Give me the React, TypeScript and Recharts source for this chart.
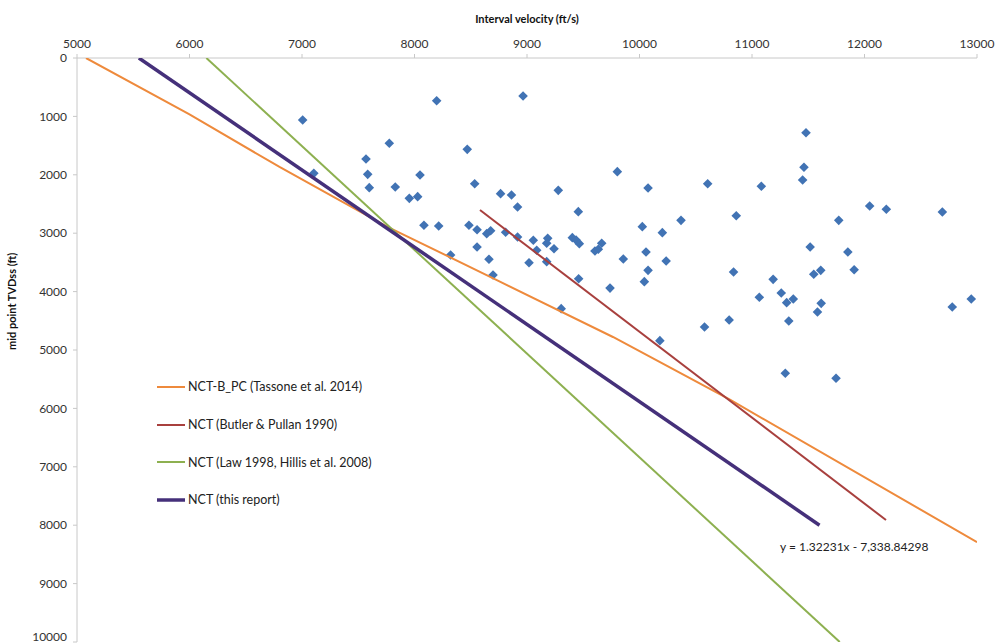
import React from "react";
import { ScatterChart, Scatter, XAxis, YAxis } from "recharts";

// interval velocity (ft/s), mid point depth TVDss (ft)
const wellVelocity = [
  7006, 8197, 7776, 7569, 7105, 7584, 8049, 8469, 7598, 7829, 7954, 8028, 8535, 8765, 8862,
  8916, 8084, 8215, 8484, 8556, 8642, 8677, 8810, 8916, 8321, 8556, 8662, 8698, 8965, 9803,
  9278, 10076, 10606, 9456, 10025, 10203, 10369, 10860, 9056, 9086, 9184, 9175, 9240, 9403,
  9436, 9465, 9604, 9634, 9664, 9018, 9175, 9856, 10058, 10076, 10237, 9459, 9738, 10043,
  10836, 11480, 11462, 11450, 11083, 12046, 12194, 12692, 11771, 11517, 11852, 11908, 11549,
  11611, 11188, 11065, 11260, 11308, 11367, 11615, 11582, 11327, 12780, 12949, 11296, 11747,
  9304, 10181, 10578, 10797,
];
const wellDepth = [
  1062, 731, 1461, 1729, 1975, 1992, 2003, 1564, 2220, 2209, 2403, 2374, 2152, 2323, 2346,
  2551, 2865, 2877, 2865, 2940, 3008, 2957, 2985, 3065, 3373, 3236, 3447, 3716, 650, 1946,
  2266, 2226, 2152, 2631, 2888, 2991, 2780, 2700, 3122, 3293, 3088, 3173, 3265, 3076,
  3116, 3179, 3305, 3276, 3173, 3505, 3487, 3442, 3322, 3636, 3476, 3779, 3940, 3830,
  3664, 1279, 1872, 2089, 2197, 2534, 2591, 2637, 2780, 3236, 3322, 3625, 3704,
  3636, 3790, 4098, 4024, 4189, 4127, 4201, 4349, 4503, 4264, 4127, 5399, 5485,
  4292, 4840, 4606, 4486,
];

const tassoneVelocity = [5080, 6000, 6800, 7760, 8750, 9764, 10804, 13000];
const tassoneDepth = [0, 965, 1866, 2890, 3820, 4777, 5850, 8290];

const butlerVelocity = [8582, 12191];
const butlerDepth = [2603, 7911];

const lawVelocity = [6150, 11780];
const lawDepth = [0, 10000];

// y = 1.32231x - 7,338.84298
const reportVelocity = [5550, 11600];
const reportDepth = [0, 8000];

const xTicks = [5000, 6000, 7000, 8000, 9000, 10000, 11000, 12000, 13000];
const yTicks = [0, 1000, 2000, 3000, 4000, 5000, 6000, 7000, 8000, 9000, 10000];

const zip = (xs: number[], ys: number[]) => xs.map((v, i) => ({ v, d: ys[i] }));

const series = [
  { name: "NCT-B_PC (Tassone et al. 2014)", color: "#ee8a3c", width: 2, data: zip(tassoneVelocity, tassoneDepth) },
  { name: "NCT (Butler & Pullan 1990)", color: "#a8403e", width: 2, data: zip(butlerVelocity, butlerDepth) },
  { name: "NCT (Law 1998, Hillis et al. 2008)", color: "#8db050", width: 2, data: zip(lawVelocity, lawDepth) },
  { name: "NCT (this report)", color: "#45307a", width: 3.5, data: zip(reportVelocity, reportDepth) },
];

const font = "Lato, 'Open Sans', sans-serif";

function Diamond(props: any) {
  const { cx, cy } = props;
  const r = 4.8;
  return <path d={`M${cx},${cy - r}L${cx + r},${cy}L${cx},${cy + r}L${cx - r},${cy}Z`} fill="#4173b4" />;
}

function LegendBox() {
  return (
    <div style={{ position: "absolute", left: 157, top: 368, fontFamily: font, fontSize: 12.5, color: "#222" }}>
      {series.map((s) => (
        <div key={s.name} style={{ display: "flex", alignItems: "center", height: 37.7, whiteSpace: "nowrap" }}>
          <svg width={28} height={8} style={{ marginRight: 3 }}>
            <line x1={0} y1={4} x2={28} y2={4} stroke={s.color} strokeWidth={s.width} />
          </svg>
          <span>{s.name}</span>
        </div>
      ))}
    </div>
  );
}

export default function App() {
  return (
    <div style={{ position: "absolute", left: 0, top: 0, width: 995, height: 644, background: "#fff" }}>
      <ScatterChart width={995} height={644} margin={{ top: 0, right: 18, bottom: 2, left: 0 }}>
        <XAxis
          xAxisId={0}
          type="number"
          dataKey="v"
          orientation="top"
          domain={[5000, 13000]}
          ticks={xTicks}
          height={58}
          allowDataOverflow
          tick={{ fill: "#333", fontSize: 12, fontFamily: font }}
          axisLine={{ stroke: "#c8c8c8" }}
          tickLine={{ stroke: "#c8c8c8" }}
          tickSize={4}
          tickMargin={6}
          label={{
            value: "Interval velocity (ft/s)",
            position: "insideTop",
            offset: 15,
            fill: "#111",
            fontSize: 11,
            fontWeight: "bold",
            fontFamily: font,
          }}
        />
        <YAxis
          yAxisId={0}
          type="number"
          dataKey="d"
          reversed
          domain={[0, 10000]}
          ticks={yTicks}
          width={77}
          allowDataOverflow
          tick={{ fill: "#333", fontSize: 12, fontFamily: font }}
          axisLine={{ stroke: "#c8c8c8" }}
          tickLine={{ stroke: "#c8c8c8" }}
          tickSize={4}
          tickMargin={6}
          label={{
            value: "mid point TVDss (ft)",
            angle: -90,
            position: "insideLeft",
            offset: 12,
            fill: "#111",
            fontSize: 11,
            fontWeight: "bold",
            fontFamily: font,
          }}
        />
        <Scatter
          name="wells"
          data={zip(wellVelocity, wellDepth)}
          shape={<Diamond />}
          isAnimationActive={false}
        />
        {series.map((s) => (
          <Scatter
            key={s.name}
            name={s.name}
            data={s.data}
            line={{ stroke: s.color, strokeWidth: s.width }}
            lineType="joint"
            stroke={s.color}
            fill={s.color}
            shape={() => <g />}
            isAnimationActive={false}
          />
        ))}
      </ScatterChart>
      <LegendBox />
      <div
        style={{
          position: "absolute",
          left: 780,
          top: 539,
          fontFamily: font,
          fontSize: 12,
          color: "#222",
          whiteSpace: "nowrap",
        }}
      >
        y = 1.32231x - 7,338.84298
      </div>
    </div>
  );
}
